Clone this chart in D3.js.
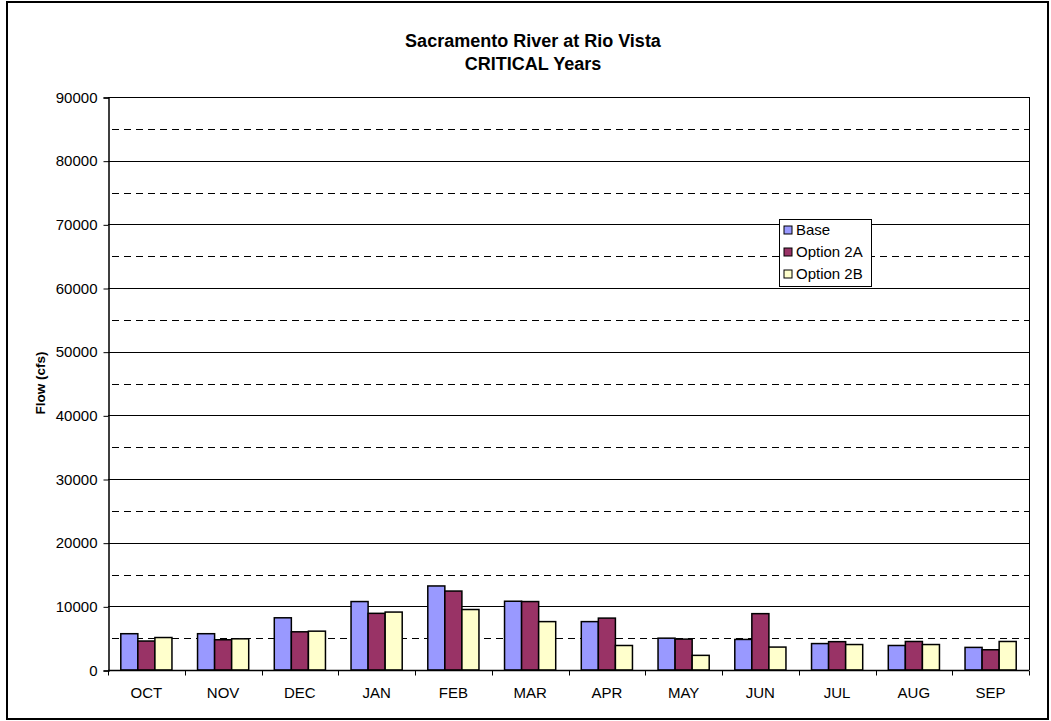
<!DOCTYPE html>
<html>
<head>
<meta charset="utf-8">
<script src="https://cdn.jsdelivr.net/npm/d3@7"></script>
<style>
  html, body { margin: 0; padding: 0; background: #fff; }
  svg { display: block; font-family: Arial, "Liberation Sans", sans-serif; }
</style>
</head>
<body>
<svg id="chart" width="1051" height="721"></svg>
<script>
const months = ["OCT","NOV","DEC","JAN","FEB","MAR","APR","MAY","JUN","JUL","AUG","SEP"];
const seriesNames = ["Base","Option 2A","Option 2B"];
const seriesColors = ["#9999FF","#993366","#FFFFCC"];
const baseValues    = [5700, 5700, 8200, 10750, 13200, 10800, 7600, 5000, 4800, 4150, 3850, 3550];
const option2AValues = [4550, 4750, 6000, 8900, 12400, 10750, 8150, 4850, 8850, 4450, 4480, 3180];
const option2BValues = [5100, 4900, 6100, 9100, 9500, 7600, 3850, 2300, 3600, 4000, 4000, 4480];
const yMajorTicks = [0,10000,20000,30000,40000,50000,60000,70000,80000,90000];
const yMinorTicks = [5000,15000,25000,35000,45000,55000,65000,75000,85000];
const titleLines = ["Sacramento River at Rio Vista","CRITICAL Years"];
const yAxisTitle = "Flow (cfs)";

const allSeries = [baseValues, option2AValues, option2BValues];

const svg = d3.select("#chart");
const L = 108, R = 1029, T = 97, B = 670;

// outer border
svg.append("rect").attr("x",7).attr("y",2).attr("width",1041).attr("height",717)
  .attr("fill","none").attr("stroke","#000").attr("stroke-width",2);

const x0 = d3.scaleBand().domain(months).range([L, R]).padding(0);
const step = x0.bandwidth();
const w = step / 4.5;
const x1 = d3.scaleBand().domain(d3.range(3)).range([0.75*w, 3.75*w]).padding(0);
const y = d3.scaleLinear().domain([0, 90000]).range([B, T]);

// minor dashed grid
svg.append("g").selectAll("line").data(yMinorTicks).join("line")
  .attr("x1", L).attr("x2", R)
  .attr("y1", d => Math.round(y(d)) + 0.5).attr("y2", d => Math.round(y(d)) + 0.5)
  .attr("stroke","#000").attr("stroke-width",1).attr("stroke-dasharray","7,5")
  .attr("stroke-dashoffset", -4);

// major grid
svg.append("g").selectAll("line").data(yMajorTicks.filter(d => d > 0)).join("line")
  .attr("x1", L).attr("x2", R)
  .attr("y1", d => Math.round(y(d)) + 0.5).attr("y2", d => Math.round(y(d)) + 0.5)
  .attr("stroke","#000").attr("stroke-width",1);

// right border
svg.append("line").attr("x1", R+0.5).attr("x2", R+0.5).attr("y1", T).attr("y2", B)
  .attr("stroke","#000").attr("stroke-width",1);

// bars
const groups = svg.append("g").selectAll("g").data(months).join("g")
  .attr("transform", d => `translate(${x0(d)},0)`);
groups.selectAll("rect").data((m, i) => allSeries.map((s, k) => ({k, v: s[i]}))).join("rect")
  .attr("x", d => x1(d.k))
  .attr("width", x1.bandwidth())
  .attr("y", d => y(d.v))
  .attr("height", d => y(0) - y(d.v))
  .attr("fill", d => seriesColors[d.k])
  .attr("stroke","#000").attr("stroke-width",1.5);

// y axis
const yAxis = d3.axisLeft(y).tickValues(yMajorTicks).tickSize(5).tickPadding(6)
  .tickFormat(d3.format("d"));
const gy = svg.append("g").attr("transform", `translate(${L+0.5},0.5)`).call(yAxis);
gy.select(".domain").attr("stroke","#000").attr("stroke-width",1.5);
gy.selectAll(".tick line").attr("stroke","#000");
gy.selectAll(".tick text").attr("font-size","15px").attr("fill","#000")
  .attr("font-family","Arial, 'Liberation Sans', sans-serif");

// x axis
const gx = svg.append("g").attr("transform", `translate(0,${B+0.5})`);
gx.append("line").attr("x1", L).attr("x2", R).attr("stroke","#000").attr("stroke-width",1.5);
gx.selectAll("line.tk").data(months.concat(["__end"])).join("line").attr("class","tk")
  .attr("x1", (d,i) => Math.round(L + i*step) + 0.5).attr("x2", (d,i) => Math.round(L + i*step) + 0.5)
  .attr("y1", 0).attr("y2", 5).attr("stroke","#000");
gx.selectAll("text").data(months).join("text")
  .attr("x", d => x0(d) + step/2).attr("y", 27)
  .attr("text-anchor","middle").attr("font-size","15px").attr("fill","#000")
  .text(d => d);

// title
svg.append("g").selectAll("text").data(titleLines).join("text")
  .attr("x", 533).attr("y", (d,i) => 47 + i*23)
  .attr("text-anchor","middle").attr("font-size","18px").attr("font-weight","bold")
  .text(d => d);

// y axis title
svg.append("text").attr("transform","translate(45,383) rotate(-90)")
  .attr("text-anchor","middle").attr("font-size","13.5px").attr("font-weight","bold")
  .text(yAxisTitle);

// legend
const lg = svg.append("g");
lg.append("rect").attr("x",779.5).attr("y",219.5).attr("width",92).attr("height",67)
  .attr("fill","#fff").attr("stroke","#000").attr("stroke-width",1);
const items = lg.selectAll("g").data(seriesNames).join("g")
  .attr("transform", (d,i) => `translate(0,${230 + i*22})`);
items.append("rect").attr("x",784).attr("y",-4).attr("width",8).attr("height",8)
  .attr("fill",(d,i) => seriesColors[i]).attr("stroke","#000").attr("stroke-width",1);
items.append("text").attr("x",796).attr("y",5).attr("font-size","15px").text(d => d);
</script>
</body>
</html>
